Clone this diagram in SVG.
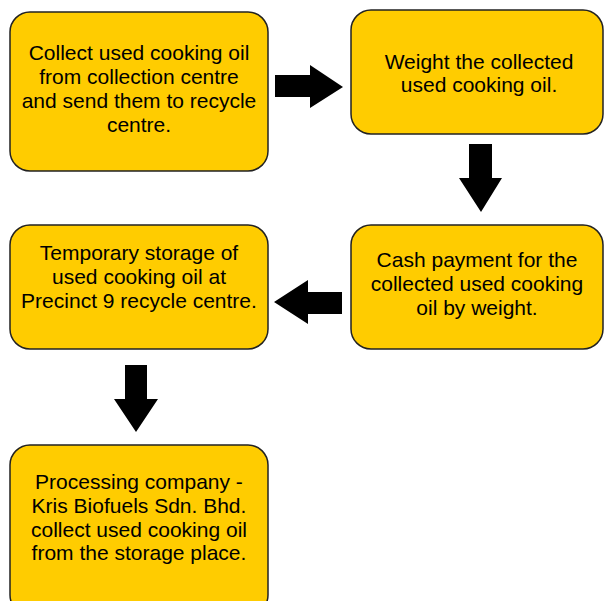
<svg xmlns="http://www.w3.org/2000/svg" width="604" height="601" viewBox="0 0 604 601">
<style>
.box{fill:#FFCC00;stroke:#222;stroke-width:1.5}
.t{font-family:"Liberation Sans",Arial,sans-serif;font-size:21px;fill:#000;text-anchor:middle}
.arr{fill:#000}
</style>
<rect width="604" height="601" fill="#fff"/>
<g id="n1"><rect class="box" x="10" y="12" width="258" height="159" rx="20"/>
<text class="t"><tspan x="139" y="60">Collect used cooking oil</tspan><tspan x="139" y="84">from collection centre</tspan><tspan x="139" y="108">and send them to recycle</tspan><tspan x="139" y="132">centre.</tspan></text></g>
<g id="n2"><rect class="box" x="351" y="10" width="252" height="124" rx="20"/>
<text class="t"><tspan x="479" y="69">Weight the collected</tspan><tspan x="479" y="92">used cooking oil.</tspan></text></g>
<g id="n3"><rect class="box" x="351" y="225" width="252" height="124" rx="20"/>
<text class="t"><tspan x="477" y="267">Cash payment for the</tspan><tspan x="477" y="291">collected used cooking</tspan><tspan x="477" y="315">oil by weight.</tspan></text></g>
<g id="n4"><rect class="box" x="10" y="225" width="258" height="124" rx="20"/>
<text class="t"><tspan x="139" y="260">Temporary storage of</tspan><tspan x="139" y="284">used cooking oil at</tspan><tspan x="139" y="308">Precinct 9 recycle centre.</tspan></text></g>
<g id="n5"><rect class="box" x="10" y="445" width="258" height="170" rx="20"/>
<text class="t"><tspan x="139" y="489">Processing company -</tspan><tspan x="139" y="513">Kris Biofuels Sdn. Bhd.</tspan><tspan x="139" y="537">collect used cooking oil</tspan><tspan x="139" y="560">from the storage place.</tspan></text></g>
<g id="connectors">
<polygon class="arr" points="275,75 310,75 310,65 343,87 310,108 310,97 275,97"/>
<polygon class="arr" points="469,144 492,144 492,178 502,178 481,212 459,178 469,178"/>
<polygon class="arr" points="342,292 308,292 308,280 274,302 308,324 308,314 342,314"/>
<polygon class="arr" points="125,365 147,365 147,399 158,399 136,432 114,399 125,399"/>
</g>
</svg>
